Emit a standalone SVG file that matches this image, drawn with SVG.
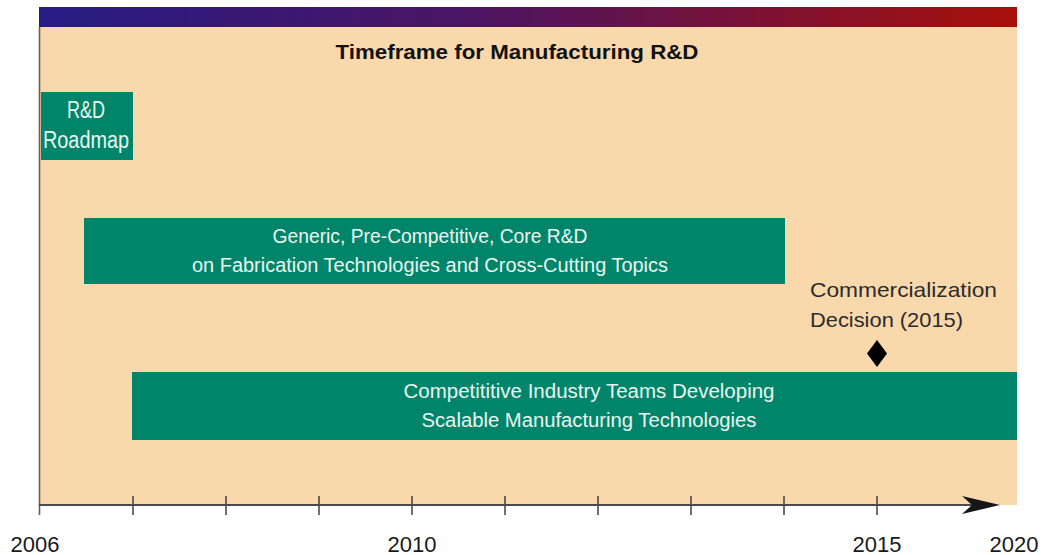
<svg xmlns="http://www.w3.org/2000/svg" width="1044" height="555" viewBox="0 0 1044 555">
  <style>
    .bar { fill: #00856B; }
    .wt { font-family: "Liberation Sans", Arial, sans-serif; font-size: 20px; fill: #EAF6EF; text-anchor: middle; }
    .yr { font-family: "Liberation Sans", Arial, sans-serif; font-size: 22px; fill: #1a1a1a; text-anchor: middle; }
    .tick { stroke: #4a4a4a; stroke-width: 1.6; }
  </style>
  <defs>
    <linearGradient id="topgrad" x1="0" y1="0" x2="1" y2="0">
      <stop offset="0" stop-color="#261C84"/>
      <stop offset="0.45" stop-color="#4C1462"/>
      <stop offset="1" stop-color="#A8100A"/>
    </linearGradient>
  </defs>
  <rect x="0" y="0" width="1044" height="555" fill="#FFFFFF"/>
  <g id="panel">
    <rect x="39" y="27" width="978" height="478" fill="#F9D8AC"/>
    <rect x="39" y="7" width="978" height="20" fill="url(#topgrad)"/>
    <text x="517" y="59" font-family="'Liberation Sans', Arial, sans-serif" font-size="20.5" font-weight="bold" fill="#111" text-anchor="middle" textLength="363" lengthAdjust="spacingAndGlyphs">Timeframe for Manufacturing R&amp;D</text>
  </g>
  <g id="roadmap">
    <rect class="bar" x="41" y="92" width="92" height="68"/>
    <text class="wt" x="86" y="118" font-size="23" style="font-size:23px" textLength="38" lengthAdjust="spacingAndGlyphs">R&amp;D</text>
    <text class="wt" x="86" y="148" style="font-size:23px" textLength="86" lengthAdjust="spacingAndGlyphs">Roadmap</text>
  </g>
  <g id="generic-rd">
    <rect class="bar" x="84" y="218" width="701" height="66"/>
    <text class="wt" x="430" y="243" textLength="315" lengthAdjust="spacingAndGlyphs">Generic, Pre-Competitive, Core R&amp;D</text>
    <text class="wt" x="430" y="272" textLength="476" lengthAdjust="spacingAndGlyphs">on Fabrication Technologies and Cross-Cutting Topics</text>
  </g>
  <g id="industry-teams">
    <rect class="bar" x="132" y="372" width="885" height="68"/>
    <text class="wt" x="589" y="398" textLength="371" lengthAdjust="spacingAndGlyphs">Competititive Industry Teams Developing</text>
    <text class="wt" x="589" y="427" textLength="335" lengthAdjust="spacingAndGlyphs">Scalable Manufacturing Technologies</text>
  </g>
  <g id="commercialization">
    <text x="810" y="297" font-family="'Liberation Sans', Arial, sans-serif" font-size="21" fill="#2b2b2b" textLength="187" lengthAdjust="spacingAndGlyphs">Commercialization</text>
    <text x="810" y="327" font-family="'Liberation Sans', Arial, sans-serif" font-size="21" fill="#2b2b2b" textLength="153" lengthAdjust="spacingAndGlyphs">Decision (2015)</text>
    <polygon points="877,340 887,353.5 877,367 867,353.5" fill="#000"/>
  </g>
  <g id="connectors">
    <line x1="39.5" y1="27" x2="39.5" y2="515" stroke="#6E5E50" stroke-width="1.6"/>
    <line x1="39" y1="505" x2="975" y2="505" stroke="#4a4a4a" stroke-width="1.8"/>
    <path d="M1000,505 L962,496 L972,505 L962,514 Z" fill="#161616"/>
    <line class="tick" x1="133" y1="496" x2="133" y2="515"/>
    <line class="tick" x1="226" y1="496" x2="226" y2="515"/>
    <line class="tick" x1="319" y1="496" x2="319" y2="515"/>
    <line class="tick" x1="412" y1="496" x2="412" y2="515"/>
    <line class="tick" x1="505" y1="496" x2="505" y2="515"/>
    <line class="tick" x1="598" y1="496" x2="598" y2="515"/>
    <line class="tick" x1="691" y1="496" x2="691" y2="515"/>
    <line class="tick" x1="784" y1="496" x2="784" y2="515"/>
    <line class="tick" x1="877" y1="496" x2="877" y2="515"/>
  </g>
  <g id="years">
    <text class="yr" x="35" y="552">2006</text>
    <text class="yr" x="412" y="552">2010</text>
    <text class="yr" x="877" y="552">2015</text>
    <text class="yr" x="1014" y="552">2020</text>
  </g>
</svg>
